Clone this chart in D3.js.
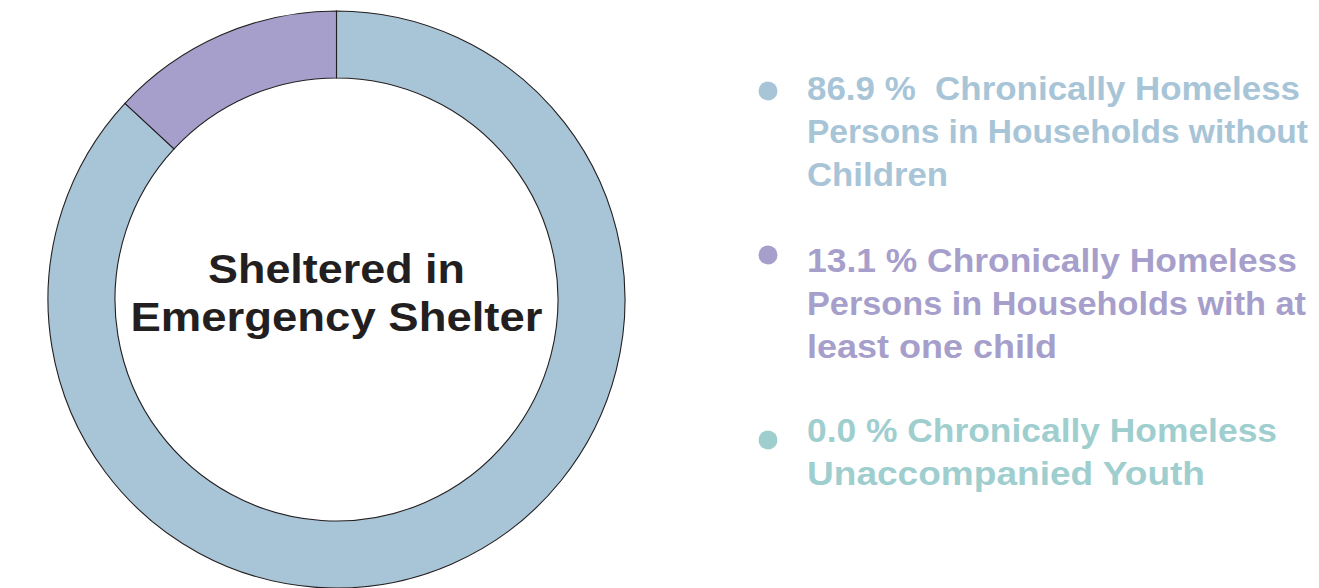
<!DOCTYPE html>
<html>
<head>
<meta charset="utf-8">
<script src="https://cdn.jsdelivr.net/npm/d3@7"></script>
<style>
  html, body { margin: 0; padding: 0; background: #ffffff; }
  svg { display: block; }
</style>
</head>
<body>
<svg id="chart" width="1319" height="588"></svg>
<script>
// Shares of chronically homeless persons sheltered in emergency shelter
const categories = [
  "Chronically Homeless Persons in Households without Children",
  "Chronically Homeless Persons in Households with at least one child",
  "Chronically Homeless Unaccompanied Youth"
];
const shares = [86.9, 13.1, 0.0];
const colors = ["#a8c5d7", "#a79fcb", "#9fcecf"];
const centerTitle = ["Sheltered in", "Emergency Shelter"];
// Legend text lines, one array per category (percentage prefix added from shares)
const legendLines = [
  ["Chronically Homeless", "Persons in Households without", "Children"],
  ["Chronically Homeless", "Persons in Households with at", "least one child"],
  ["Chronically Homeless", "Unaccompanied Youth"]
];

const svg = d3.select("#chart");
const cx = 336.5, cy = 299.5, outerR = 288.5, innerR = 221.5;
const fontFamily = "'Liberation Sans', Arial, sans-serif";

const pie = d3.pie().sort(null).value(d => d);
const arc = d3.arc().innerRadius(innerR).outerRadius(outerR);

const donut = svg.append("g").attr("transform", `translate(${cx},${cy})`);
donut.selectAll("path")
  .data(pie(shares))
  .join("path")
  .attr("d", arc)
  .attr("fill", (d, i) => colors[i])
  .attr("stroke", d => d.value > 0 ? "#231f20" : "none")
  .attr("stroke-width", 1.1);

// Title in the hole
const title = donut.append("text")
  .attr("text-anchor", "middle")
  .attr("font-family", fontFamily)
  .attr("font-weight", "bold")
  .attr("font-size", 41)
  .attr("fill", "#231f20");
const titleWidths = [257, 412];
const titleBaselines = [-16.5, 31.5];
centerTitle.forEach((t, i) => {
  title.append("tspan")
    .attr("x", 0)
    .attr("y", titleBaselines[i])
    .attr("textLength", titleWidths[i])
    .attr("lengthAdjust", "spacingAndGlyphs")
    .text(t);
});

// Legend
const fmt = d3.format(".1f");
const legendX = 807, bulletX = 768;
const itemTop = [100, 271.5, 441.5];
const bulletY = [91, 255, 440];
const lineGap = 43;
const lineWidths = [
  [493, 501, 141],
  [490, 499, 250],
  [470, 398]
];
const prefixes = shares.map((v, i) => fmt(v) + (i === 0 ? " %  " : " % "));

const legend = svg.append("g");
categories.forEach((cat, i) => {
  const g = legend.append("g").attr("class", "legend-item");
  g.append("circle")
    .attr("cx", bulletX)
    .attr("cy", bulletY[i])
    .attr("r", 9.5)
    .attr("fill", colors[i]);
  const txt = g.append("text")
    .attr("font-family", fontFamily)
    .attr("font-weight", "bold")
    .attr("font-size", 33.5)
    .attr("fill", colors[i]);
  legendLines[i].forEach((line, j) => {
    txt.append("tspan")
      .attr("x", legendX)
      .attr("y", itemTop[i] + j * lineGap)
      .attr("textLength", lineWidths[i][j])
      .attr("lengthAdjust", "spacingAndGlyphs")
      .attr("xml:space", "preserve")
      .text(j === 0 ? prefixes[i] + line : line);
  });
});
</script>
</body>
</html>
